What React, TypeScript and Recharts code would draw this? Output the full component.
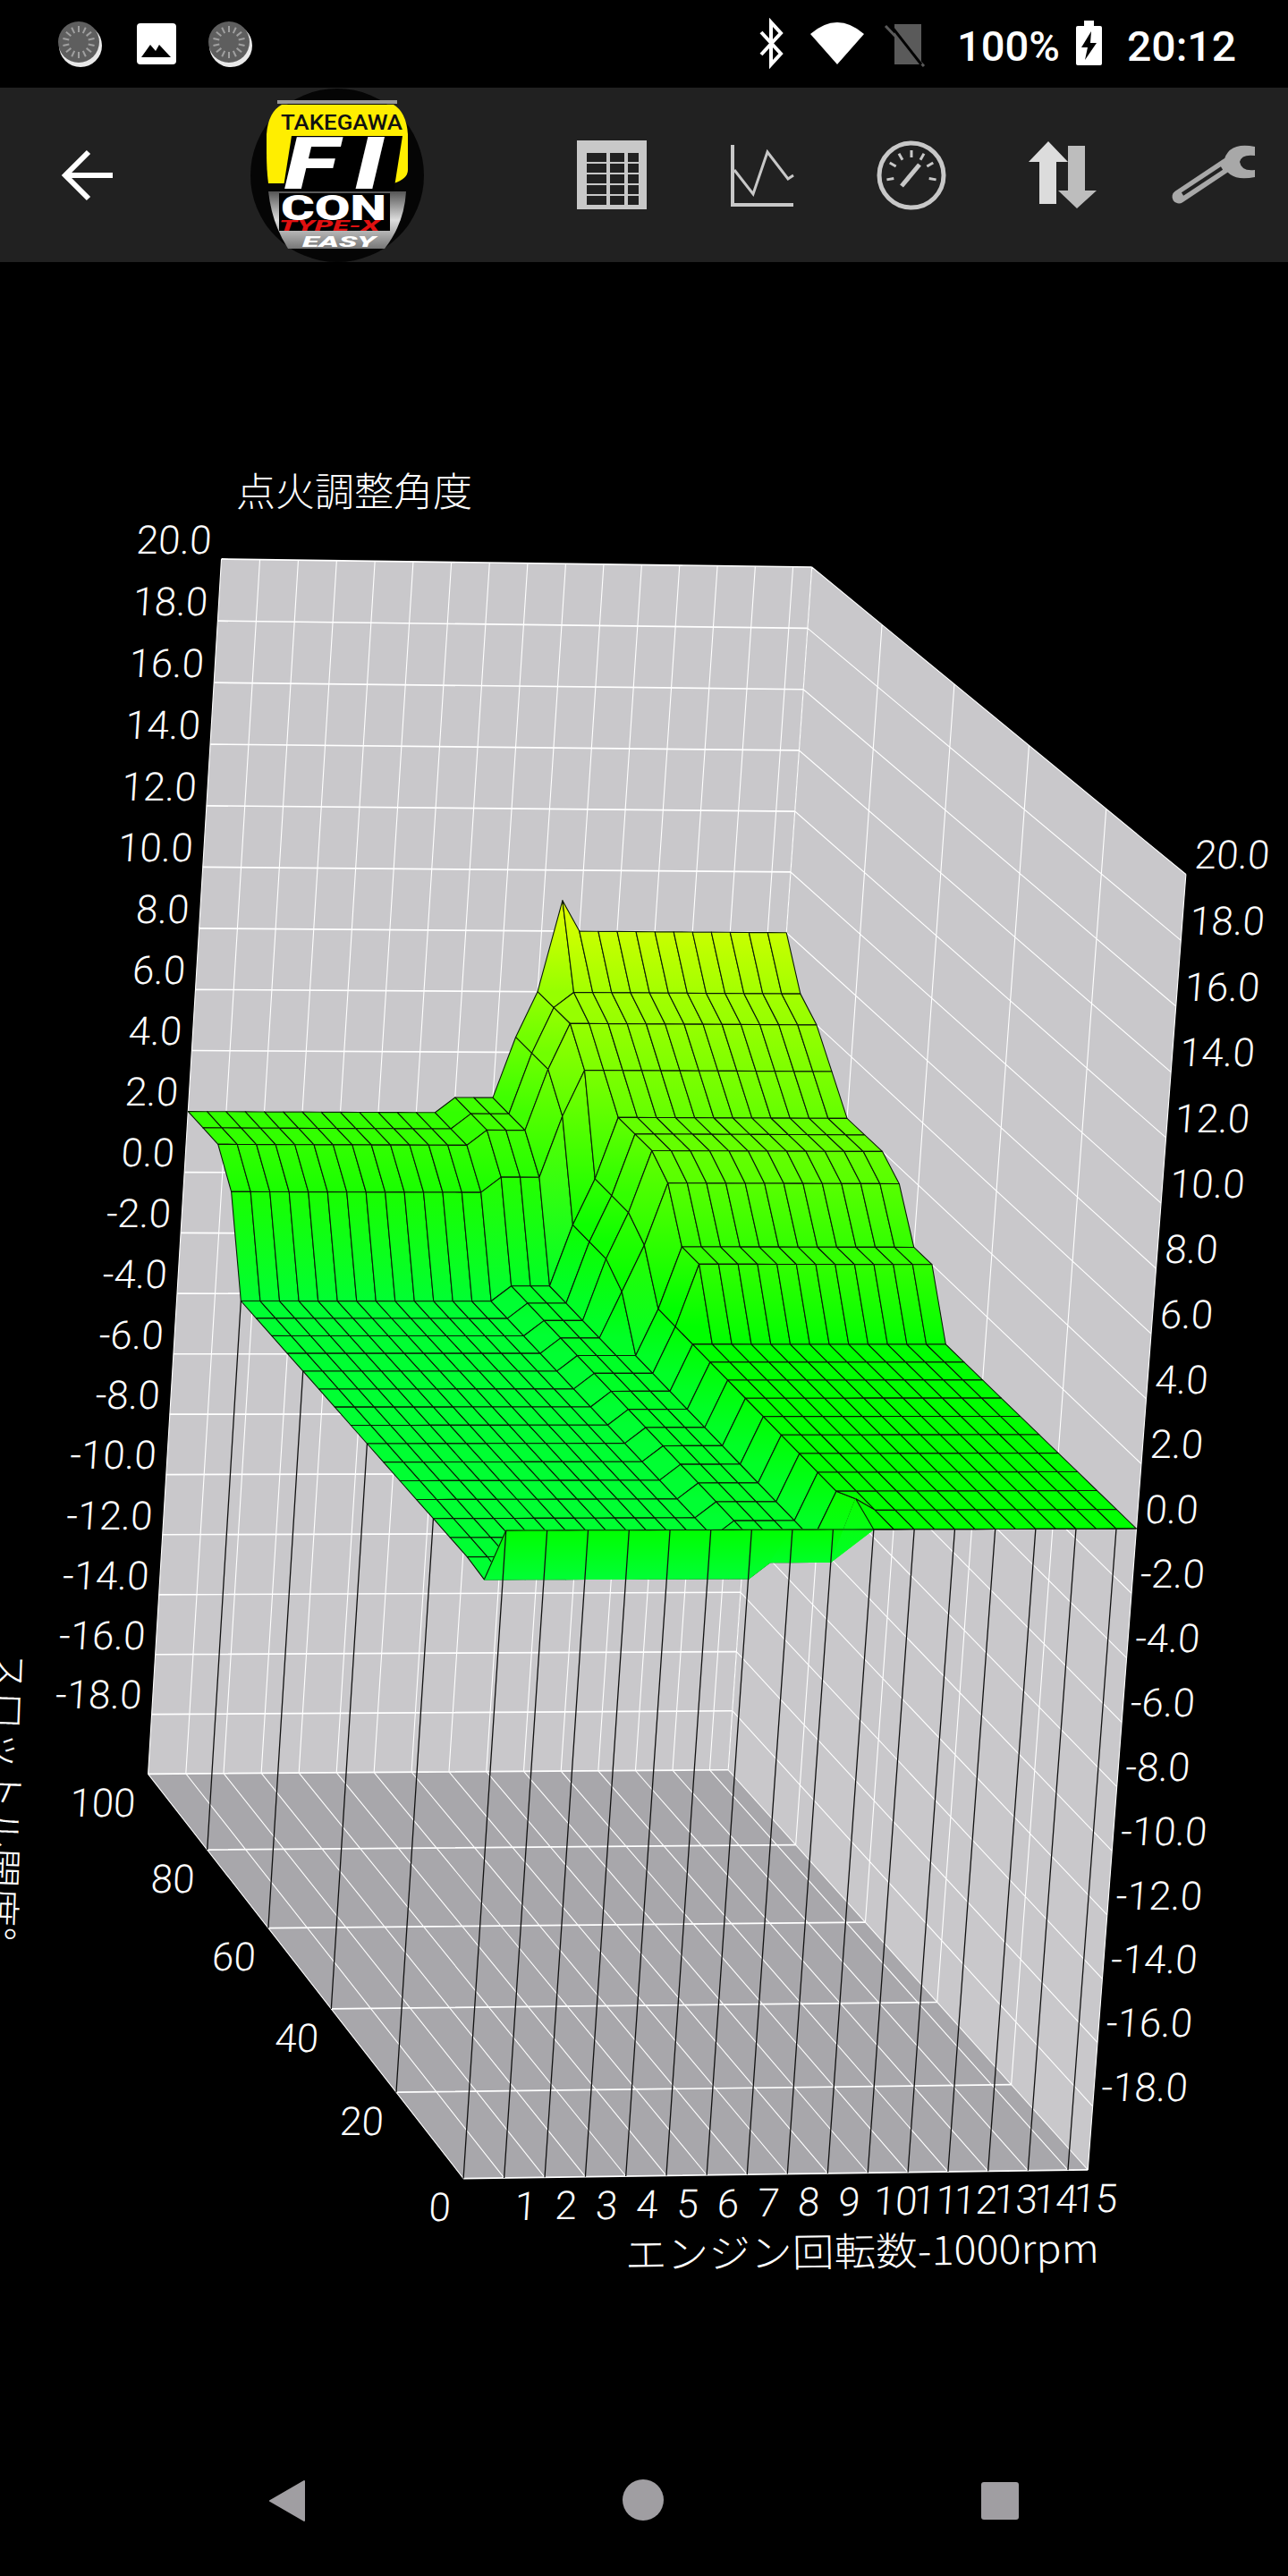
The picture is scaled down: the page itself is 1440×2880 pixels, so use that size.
import React from "react";
import { ScatterChart, Scatter, XAxis, YAxis } from "recharts";

// engine speed (x1000 rpm) and throttle (%) of the map grid
const rpmColumns = [0, 0.5, 1, 1.5, 2, 2.5, 3, 3.5, 4, 4.5, 5, 5.5, 6, 6.5, 7, 7.5, 8, 8.5, 9, 9.5, 10, 10.5, 11, 11.5, 12, 12.5, 13, 13.5, 14, 14.5, 15, 15.5];
const throttleRows = [100, 95, 90, 85, 80, 75, 70, 65, 60, 55, 50, 45, 40, 35, 30, 25, 20, 15, 10, 5, 0];

// ignition angle per throttle row, one value per rpm column
const at100 = [2, 2, 2, 2, 2, 2, 2, 2, 2, 2, 2, 2, 2, 2, 2.5, 2.5, 2.5, 4.5, 6, 9, 8, 8, 8, 8, 8, 8, 8, 8, 8, 8, 8, 8];
const at95 = [2, 2, 2, 2, 2, 2, 2, 2, 2, 2, 2, 2, 2, 2, 2.5, 2.5, 2.5, 4.5, 6, 6.5, 6.5, 6.5, 6.5, 6.5, 6.5, 6.5, 6.5, 6.5, 6.5, 6.5, 6.5, 6.5];
const at90 = [2, 2, 2, 2, 2, 2, 2, 2, 2, 2, 2, 2, 2, 2, 2.5, 2.5, 2.5, 4.5, 6, 6, 6, 6, 6, 6, 6, 6, 6, 6, 6, 6, 6, 6];
const at85 = [1, 1, 1, 1, 1, 1, 1, 1, 1, 1, 1, 1, 1, 1, 1.5, 1.5, 1.5, 3.5, 5, 5, 5, 5, 5, 5, 5, 5, 5, 5, 5, 5, 5, 5];
const at80 = [-2, -2, -2, -2, -2, -2, -2, -2, -2, -2, -2, -2, -2, -2, -1.5, -1.5, -1.5, 0.5, 2, 4, 4, 4, 4, 4, 4, 4, 4, 4, 4, 4, 4, 4];
const at75 = [...at80];
const at70 = [...at80];
const at65 = [-2, -2, -2, -2, -2, -2, -2, -2, -2, -2, -2, -2, -2, -2, -1.5, -1.5, -1.5, 0, 1.5, 3.5, 3.5, 3.5, 3.5, 3.5, 3.5, 3.5, 3.5, 3.5, 3.5, 3.5, 3.5, 3.5];
const at60 = [-2, -2, -2, -2, -2, -2, -2, -2, -2, -2, -2, -2, -2, -2, -1.5, -1.5, -1.5, -1.5, 0, 2, 2, 2, 2, 2, 2, 2, 2, 2, 2, 2, 2, 2];
const at55 = [...at60];
const at50 = [-2, -2, -2, -2, -2, -2, -2, -2, -2, -2, -2, -2, -2, -2, -1.5, -1.5, -1.5, -1.5, 0, 0, 0, 0, 0, 0, 0, 0, 0, 0, 0, 0, 0, 0];
const at45 = [...at50];
const at40 = [...at50];
const at35 = [...at50];
const at30 = [...at50];
const at25 = [...at50];
const at20 = [...at50];
const at15 = [...at50];
const at10 = [...at50];
const at5 = [-2.1, -2.1, -2.1, -2.1, -2.1, -2.1, -2.1, -2.1, -2.1, -2.1, -2.1, -2.1, -2.1, -2.1, -1.6, -1.6, -1.6, -1.6, 0.35, 0, 0, 0, 0, 0, 0, 0, 0, 0, 0, 0, 0, 0];
const at0 = [0, 0, 0, 0, 0, 0, 0, 0, 0, 0, 0, 0, 0, 0, 0, 0, 0, 0, 0, 0, 0, 0, 0, 0, 0, 0, 0, 0, 0, 0, 0, 0];
const angleTable = [at100, at95, at90, at85, at80, at75, at70, at65, at60, at55, at50, at45, at40, at35, at30, at25, at20, at15, at10, at5, at0];

// axis ticks
const rpmTicks = [1, 2, 3, 4, 5, 6, 7, 8, 9, 10, 11, 12, 13, 14, 15];
const rpmGrid = [0, ...rpmTicks, 15.5];
const throttleTicks = [100, 80, 60, 40, 20, 0];
const angleTicks = [20, 18, 16, 14, 12, 10, 8, 6, 4, 2, 0, -2, -4, -6, -8, -10, -12, -14, -16, -18];
const angleGrid = [...angleTicks, -20];

// camera calibration: cube corners as seen on the screen
const calibration: [number[], number[]][] = [
  [[0, 100, 20], [248, 625]],
  [[15.5, 100, 20], [907, 634]],
  [[15.5, 0, 20], [1326, 977]],
  [[0, 100, -20], [165, 1982]],
  [[15.5, 100, -20], [815, 1980]],
  [[15.5, 0, -20], [1216, 2425]],
  [[0, 0, -20], [518, 2436]],
  [[0, 0, 0], [566, 1712]],
];

const norm = ([r, t, a]: number[]) => [r / 15.5, t / 100, (a + 20) / 40];

const fitCamera = () => {
  const A: number[][] = [];
  const b: number[] = [];
  calibration.forEach(([world, screen]) => {
    const [r, t, a] = norm(world);
    const sx = screen[0] / 1000;
    const sy = screen[1] / 1000;
    A.push([r, t, a, 1, 0, 0, 0, 0, -sx * r, -sx * t, -sx * a]);
    b.push(sx);
    A.push([0, 0, 0, 0, r, t, a, 1, -sy * r, -sy * t, -sy * a]);
    b.push(sy);
  });
  const n = 11;
  const M = Array.from({ length: n }, (_, i) => {
    const row = Array.from({ length: n }, (_, j) => A.reduce((s, e) => s + e[i] * e[j], 0));
    row.push(A.reduce((s, e, k) => s + e[i] * b[k], 0));
    return row;
  });
  for (let i = 0; i < n; i++) {
    let best = i;
    for (let k = i + 1; k < n; k++) if (Math.abs(M[k][i]) > Math.abs(M[best][i])) best = k;
    [M[i], M[best]] = [M[best], M[i]];
    for (let k = 0; k < n; k++) {
      if (k === i) continue;
      const f = M[k][i] / M[i][i];
      for (let j = i; j <= n; j++) M[k][j] -= f * M[i][j];
    }
  }
  return M.map((row, i) => row[n] / row[i]);
};

const cam = fitCamera();

const project = (rpm: number, throttle: number, angle: number) => {
  const [r, t, a] = norm([rpm, throttle, angle]);
  const w = cam[8] * r + cam[9] * t + cam[10] * a + 1;
  return {
    px: (1000 * (cam[0] * r + cam[1] * t + cam[2] * a + cam[3])) / w,
    py: (1000 * (cam[4] * r + cam[5] * t + cam[6] * a + cam[7])) / w,
  };
};

// colour ramp of the surface: green at 0, towards yellow above, towards cyan below
const angleColor = (a: number) => {
  const c = Math.min(255, Math.round(Math.abs(a) * 25));
  return a >= 0 ? `rgb(${c},255,0)` : `rgb(0,255,${c})`;
};

const MESH = "#0a1a06";

const NoDot = () => <g />;

const backWall = [[0, 100, 20], [15.5, 100, 20], [15.5, 100, -20], [0, 100, -20]];
const sideWall = [[15.5, 100, 20], [15.5, 0, 20], [15.5, 0, -20], [15.5, 100, -20]];
const floor = [[0, 100, -20], [15.5, 100, -20], [15.5, 0, -20], [0, 0, -20]];

const toPoints = (list: number[][]) => list.map(([r, t, a]) => project(r, t, a));

const face = (fill: string) => (p: any) => (
  <polygon points={p.points.map((q: any) => `${q.x},${q.y}`).join(" ")} fill={fill} />
);

const segments = (stroke: string, width: number) => (p: any) => {
  let d = "";
  for (let i = 0; i + 1 < p.points.length; i += 2) {
    d += `M${p.points[i].x},${p.points[i].y}L${p.points[i + 1].x},${p.points[i + 1].y}`;
  }
  return <path d={d} fill="none" stroke={stroke} strokeWidth={width} />;
};

const heavyGrid = toPoints([
  ...angleGrid.flatMap((a) => [[0, 100, a], [15.5, 100, a]]),
  [0, 100, 20], [15.5, 100, 20],
  ...throttleTicks.flatMap((t) => [[0, t, -20], [15.5, t, -20]]),
]);
const thinGrid = toPoints([
  ...rpmGrid.flatMap((r) => [[r, 100, 20], [r, 100, -20]]),
  ...rpmGrid.flatMap((r) => [[r, 100, -20], [r, 0, -20]]),
  ...angleGrid.flatMap((a) => [[15.5, 100, a], [15.5, 0, a]]),
  ...throttleTicks.flatMap((t) => [[15.5, t, 20], [15.5, t, -20]]),
]);

const surfacePoints = throttleRows.flatMap((t, i) => rpmColumns.map((r, j) => project(r, t, angleTable[i][j])));

// posts from the floor up to the surface edges
const posts = toPoints([
  ...[0, ...rpmTicks].flatMap((r) => [[r, 0, -20], [r, 0, angleTable[20][rpmColumns.indexOf(r)]]]),
  ...[80, 60, 40, 20].flatMap((t) => [[0, t, -20], [0, t, angleTable[throttleRows.indexOf(t)][0]]]),
]);

const renderSurface = (p: any) => {
  const cols = rpmColumns.length;
  const defs: React.ReactNode[] = [];
  const items: React.ReactNode[] = [];
  const at = (i: number, j: number) => p.points[i * cols + j];
  for (let i = 0; i < throttleRows.length - 1; i++) {
    for (let j = 0; j < cols - 1; j++) {
      const corners: [number, number][] = [[i, j], [i, j + 1], [i + 1, j + 1], [i + 1, j]];
      const zs = corners.map(([a, b]) => angleTable[a][b]);
      const hi = corners[zs.indexOf(Math.max(...zs))];
      const lo = corners[zs.indexOf(Math.min(...zs))];
      const id = `q${i}_${j}`;
      defs.push(
        <linearGradient key={id} id={id} gradientUnits="userSpaceOnUse" x1={0} x2={0} y1={at(hi[0], hi[1]).y} y2={at(lo[0], lo[1]).y + 0.01}>
          <stop offset="0" stopColor={angleColor(Math.max(...zs))} />
          <stop offset="1" stopColor={angleColor(Math.min(...zs))} />
        </linearGradient>,
      );
      const pts = corners.map(([a, b]) => `${at(a, b).x},${at(a, b).y}`).join(" ");
      // the last strip below 9000 rpm climbs back up and shows no mesh lines
      const bare = i === throttleRows.length - 2 && j < 18;
      items.push(
        <polygon key={id} points={pts} fill={`url(#${id})`} stroke={bare ? `url(#${id})` : MESH} strokeWidth={1.1} strokeLinejoin="round" />,
      );
      if (bare) {
        const tri = [corners[0], corners[2], corners[3]].map(([a, b]) => `${at(a, b).x},${at(a, b).y}`).join(" ");
        items.push(<polygon key={id + "t"} points={tri} fill={`url(#${id})`} stroke={`url(#${id})`} strokeWidth={1.1} />);
      }
    }
  }
  const last = throttleRows.length - 1;
  const edge = rpmColumns.map((_, j) => `${at(last, j).x},${at(last, j).y}`).join(" ");
  items.push(<polyline key="front" points={edge} fill="none" stroke={MESH} strokeWidth={1.1} />);
  items.push(<line key="side" x1={at(last - 1, 0).x} y1={at(last - 1, 0).y} x2={at(last, 0).x} y2={at(last, 0).y} stroke={MESH} strokeWidth={1.1} />);
  return (
    <g>
      <defs>{defs}</defs>
      {items}
    </g>
  );
};

const labelStyle = { fontFamily: "Roboto, sans-serif", fontWeight: 300, fontSize: 44, fill: "#fff" };

const tickText = (anchor: "start" | "middle" | "end", dx: (d: any) => number, dy: number, lean: number) => (props: any) => (
  <text
    transform={`translate(${props.cx + dx(props.payload)},${props.cy + dy}) skewX(${lean})`}
    textAnchor={anchor}
    dy="0.36em"
    style={labelStyle}
  >
    {props.payload.text}
  </text>
);

const leftAngleLabels = angleTicks.map((a) => ({ ...project(0, 100, a), text: a.toFixed(1) }));
const rightAngleLabels = angleTicks.map((a) => ({ ...project(15.5, 0, a), text: a.toFixed(1) }));
const throttleLabels = throttleTicks.map((t) => ({ ...project(0, t, -20), text: String(t) }));
const rpmLabels = rpmTicks.map((r) => ({ ...project(r, 0, -20), text: String(r) }));

const jpTitle = { fontFamily: "'Noto Sans CJK JP'", fontWeight: 300, fontSize: 44, fill: "#fff" };
const statusText = { fontFamily: "Roboto, sans-serif", fontWeight: 500, fontSize: 46, fill: "#fff" };

const Spinner = ({ x }: { x: number }) => (
  <g>
    <circle cx={x} cy={51} r={24} fill="#e8e8e8" />
    <circle cx={x - 2} cy={47} r={23} fill="#5e5e5e" />
    {Array.from({ length: 14 }, (_, i) => (
      <line key={i} x1={x - 2} y1={29} x2={x - 2} y2={36} stroke="#a0a0a0" strokeWidth={2} transform={`rotate(${i * 25.7} ${x - 2} 47)`} />
    ))}
  </g>
);

const Chrome = () => (
  <svg width={1440} height={2880} style={{ position: "absolute", left: 0, top: 0 }}>
    <defs>
      <linearGradient id="logoSteel" x1="0" y1="0" x2="0" y2="1">
        <stop offset="0" stopColor="#555" />
        <stop offset="0.5" stopColor="#ddd" />
        <stop offset="1" stopColor="#777" />
      </linearGradient>
    </defs>
    {/* status bar */}
    <Spinner x={90} />
    <rect x={153} y={26} width={44} height={46} rx={4} fill="#fff" />
    <polygon points="158,64 168,50 174,57 178,50 191,64" fill="#000" />
    <Spinner x={258} />
    <path d="M851,36 L873,60 L862,72 V25 L873,37 L851,61" fill="none" stroke="#fff" strokeWidth={4} />
    <path d="M906,38 Q936,12 966,38 L936,72 Z" fill="#fff" />
    <path d="M1000,27 H1030 V72 H1000 Z" fill="#5a5a5a" />
    <line x1={990} y1={29} x2={1033} y2={74} stroke="#5a5a5a" strokeWidth={3} />
    <line x1={994} y1={26} x2={1030} y2={72} stroke="#000" strokeWidth={3} />
    <text x={1070} y={68} textLength={115} lengthAdjust="spacingAndGlyphs" style={statusText}>100%</text>
    <rect x={1212} y={23} width={11} height={7} fill="#fff" />
    <rect x={1203} y={29} width={29} height={44} rx={2} fill="#fff" />
    <polygon points="1220,35 1209,53 1216,53 1213,67 1226,48 1219,48" fill="#000" />
    <text x={1260} y={68} textLength={122} lengthAdjust="spacingAndGlyphs" style={statusText}>20:12</text>

    {/* toolbar */}
    <rect x={0} y={98} width={1440} height={195} fill="#212121" />
    <path d="M126,196 H75 M99,170 L73,196 L99,222" fill="none" stroke="#fff" strokeWidth={6} />

    <circle cx={377} cy={196} r={97} fill="#050505" />
    <rect x={310} y={112} width={134} height={4} fill="#999" />
    <path d="M298,150 Q300,125 315,117 H440 Q454,125 456,150 V190 Q456,200 440,205 H300 Q298,190 298,170 Z" fill="#ffee00" />
    <text x={314} y={145} textLength={136} lengthAdjust="spacingAndGlyphs" style={{ fontFamily: "Roboto, sans-serif", fontWeight: 500, fontSize: 23, fill: "#111" }}>TAKEGAWA</text>
    <path d="M326,152 H450 L440,215 H316 Z" fill="#000" />
    <text x={318} y={211} textLength={130} lengthAdjust="spacingAndGlyphs" style={{ fontFamily: "Roboto, sans-serif", fontWeight: 900, fontStyle: "italic", fontSize: 82, letterSpacing: 14, fill: "#fff" }}>FI</text>
    <path d="M300,214 H454 Q452,250 430,278 H322 Q304,250 300,214 Z" fill="url(#logoSteel)" />
    <rect x={312} y={216} width={124} height={42} fill="#000" />
    <text x={314} y={246} textLength={118} lengthAdjust="spacingAndGlyphs" style={{ fontFamily: "Roboto, sans-serif", fontWeight: 900, fontSize: 38, fill: "#fff" }}>CON</text>
    <text x={312} y={258} textLength={112} lengthAdjust="spacingAndGlyphs" style={{ fontFamily: "Roboto, sans-serif", fontWeight: 900, fontStyle: "italic", fontSize: 17, fill: "#e01010" }}>TYPE-X</text>
    <text x={338} y={276} textLength={82} lengthAdjust="spacingAndGlyphs" style={{ fontFamily: "Roboto, sans-serif", fontWeight: 900, fontStyle: "italic", fontSize: 17, fill: "#fff" }}>EASY</text>

    {/* table icon */}
    <rect x={645} y={157} width={78} height={77} fill="#c8c8c8" />
    {[171, 183, 195, 207, 219].map((y) =>
      [656, 682, 702].map((x, i) => <rect key={`${x}-${y}`} x={x} y={y} width={[22, 16, 12][i]} height={10} fill="#212121" />),
    )}
    {/* line chart icon */}
    <path d="M819,162 V229 H887" fill="none" stroke="#c8c8c8" strokeWidth={4} />
    <polyline points="821,190 842,217 858,170 881,200 887,196" fill="none" stroke="#c8c8c8" strokeWidth={3} />
    {/* gauge icon */}
    <circle cx={1019} cy={196} r={36} fill="none" stroke="#c8c8c8" strokeWidth={5} />
    {[-100, -60, -30, 0, 30, 60, 100].map((d) => (
      <line key={d} x1={1019} y1={168} x2={1019} y2={176} stroke="#c8c8c8" strokeWidth={3} transform={`rotate(${d} 1019 196)`} />
    ))}
    <line x1={1008} y1={208} x2={1028} y2={184} stroke="#c8c8c8" strokeWidth={5} />
    {/* up / down arrows */}
    <polygon points="1172,158 1194,181 1181,181 1181,228 1162,228 1162,181 1150,181" fill="#dcdcdc" />
    <polygon points="1204,233 1226,213 1213,213 1213,163 1194,163 1194,213 1183,213" fill="#bdbdbd" />
    {/* wrench icon */}
    <line x1={1318} y1={220} x2={1372} y2={184} stroke="#a8a8a8" strokeWidth={15} strokeLinecap="round" />
    <line x1={1322} y1={217} x2={1366} y2={188} stroke="#212121" strokeWidth={4} />
    <path d="M1403,164 Q1372,158 1368,182 Q1372,204 1403,198 L1403,190 Q1388,192 1386,181 Q1388,172 1403,174 Z" fill="#a8a8a8" />

    {/* axis titles */}
    <text x={264} y={566} style={jpTitle}>点火調整角度</text>
    <text x={699} y={2537} transform="rotate(-0.8 699 2537)" textLength={530} lengthAdjust="spacingAndGlyphs" style={jpTitle}>エンジン回転数-1000rpm</text>
    <text transform="translate(-5,1846) rotate(92)" style={jpTitle}>スロットル開度°</text>

    {/* navigation bar */}
    <polygon points="340,2774 340,2818 302,2796" fill="#a09ea2" stroke="#a09ea2" strokeWidth={2} strokeLinejoin="round" />
    <circle cx={719} cy={2795} r={23} fill="#a09ea2" />
    <rect x={1097} y={2775} width={42} height={42} rx={3} fill="#a09ea2" />
  </svg>
);

export default function App() {
  return (
    <div style={{ position: "absolute", left: 0, top: 0, width: 1440, height: 2880, background: "#000", overflow: "hidden" }}>
      <ScatterChart width={1440} height={2880} margin={{ top: 0, right: 0, bottom: 0, left: 0 }}>
        <XAxis type="number" dataKey="px" domain={[0, 1440]} hide allowDataOverflow />
        <YAxis type="number" dataKey="py" domain={[0, 2880]} reversed hide allowDataOverflow />
        <Scatter data={toPoints(backWall)} line={face("#c9c8cb")} shape={NoDot} isAnimationActive={false} />
        <Scatter data={toPoints(sideWall)} line={face("#c9c8cb")} shape={NoDot} isAnimationActive={false} />
        <Scatter data={toPoints(floor)} line={face("#a8a7ab")} shape={NoDot} isAnimationActive={false} />
        <Scatter data={thinGrid} line={segments("#fff", 1.1)} shape={NoDot} isAnimationActive={false} />
        <Scatter data={heavyGrid} line={segments("#fff", 1.7)} shape={NoDot} isAnimationActive={false} />
        <Scatter data={surfacePoints} line={renderSurface} shape={NoDot} isAnimationActive={false} />
        <Scatter data={posts} line={segments("#111", 1.3)} shape={NoDot} isAnimationActive={false} />
        <Scatter data={leftAngleLabels} shape={tickText("end", () => -11, -22, -3.5)} isAnimationActive={false} />
        <Scatter data={rightAngleLabels} shape={tickText("start", () => 10, -22, -4)} isAnimationActive={false} />
        <Scatter data={throttleLabels} shape={tickText("end", () => -14, 32, -3)} isAnimationActive={false} />
        <Scatter data={rpmLabels} shape={tickText("middle", (d) => (d.text.length > 1 ? 31 : 24), 31, -3.5)} isAnimationActive={false} />
      </ScatterChart>
      <Chrome />
    </div>
  );
}
